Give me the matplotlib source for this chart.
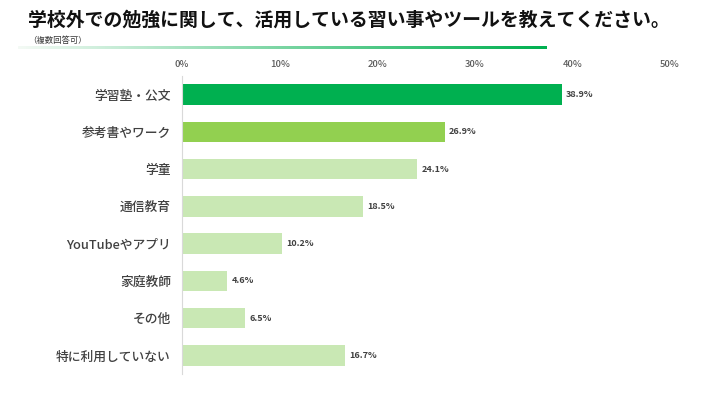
import numpy as np
import matplotlib.pyplot as plt
from matplotlib.colors import LinearSegmentedColormap

plt.rcParams['font.family'] = ['Noto Sans CJK JP', 'DejaVu Sans']

categories = ['学習塾・公文', '参考書やワーク', '学童', '通信教育',
              'YouTubeやアプリ', '家庭教師', 'その他', '特に利用していない']
values = [38.9, 26.9, 24.1, 18.5, 10.2, 4.6, 6.5, 16.7]
colors = ['#00B050', '#92D050', '#C9E8B4', '#C9E8B4',
          '#C9E8B4', '#C9E8B4', '#C9E8B4', '#C9E8B4']
ticks = [0, 10, 20, 30, 40, 50]

W, H = 721, 400
fig = plt.figure(figsize=(W / 100, H / 100), dpi=100)

# title
fig.text(28 / W, 1 - 20 / H, '学校外での勉強に関して、活用している習い事やツールを教えてください。',
         fontsize=13.6, fontweight='bold', color='#111111', va='center', ha='left')
fig.text(28 / W, 1 - 40 / H, '（複数回答可）', fontsize=6, color='#333333',
         va='center', ha='left')

# gradient underline
gax = fig.add_axes([18 / W, 1 - 49 / H, (547 - 18) / W, 3 / H])
cmap = LinearSegmentedColormap.from_list('g', ['#f4faf5', '#00B050'])
gax.imshow(np.linspace(0, 1, 256).reshape(1, -1), aspect='auto', cmap=cmap)
gax.axis('off')

ax = fig.add_axes([182 / W, 1 - 374 / H, (670 - 182) / W, (374 - 76) / H])
y = np.arange(len(categories))
ax.barh(y, values, height=0.55, color=colors)
for yi, v in zip(y, values):
    ax.text(v + 0.45, yi, f'{v}%', va='center', ha='left', fontsize=6.5,
            fontweight='bold', color='#404040')

ax.set_xlim(0, 50)
ax.set_ylim(len(categories) - 0.5, -0.5)
ax.set_yticks(y)
ax.set_yticklabels(categories, fontsize=9.2, color='#404040', fontweight='medium')
ax.set_xticks(ticks)
ax.set_xticklabels([f'{t}%' for t in ticks], fontsize=6.8, color='#595959',
                   fontweight='medium')
ax.xaxis.tick_top()
ax.tick_params(axis='both', length=0)
ax.tick_params(axis='x', pad=5)
ax.tick_params(axis='y', pad=8)
for s in ['top', 'right', 'bottom']:
    ax.spines[s].set_visible(False)
ax.spines['left'].set_color('#d9d9d9')

fig.savefig('out.png', dpi=100)
